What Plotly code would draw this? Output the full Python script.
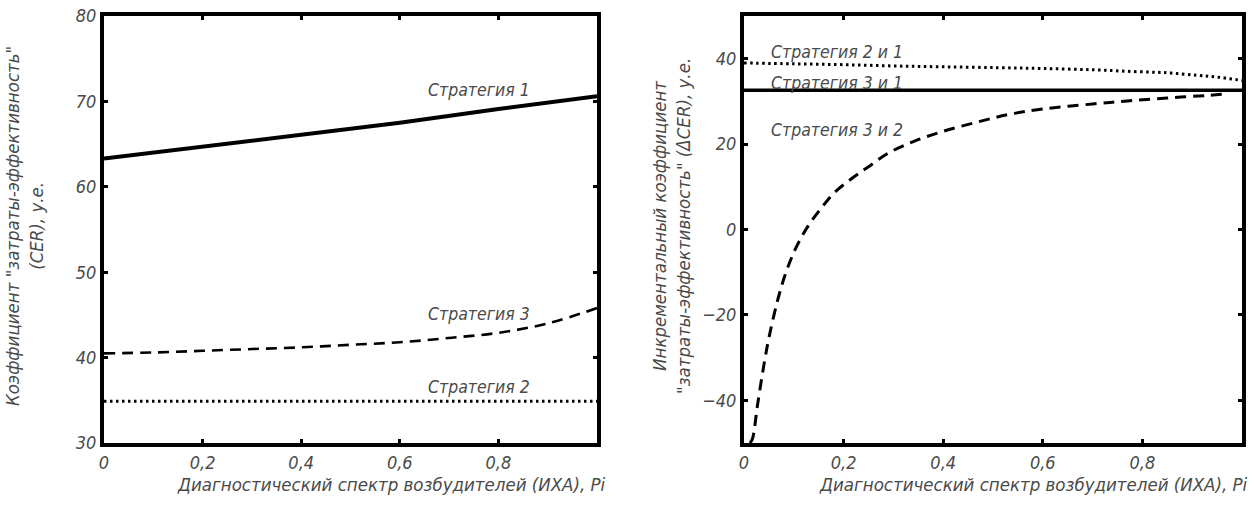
import plotly.graph_objects as go

# ---- data: left panel (CER) ----
x_s1 = [0.0, 0.2, 0.4, 0.6, 0.8, 1.0]
y_s1 = [63.3, 64.7, 66.1, 67.5, 69.1, 70.6]

x_s3 = [0.0, 0.1, 0.2, 0.3, 0.4, 0.5, 0.6, 0.7, 0.8, 0.9, 1.0]
y_s3 = [40.5, 40.6, 40.8, 41.0, 41.2, 41.5, 41.8, 42.3, 42.9, 44.0, 45.8]

x_s2 = [0.0, 1.0]
y_s2 = [34.9, 34.9]

# ---- data: right panel (delta CER) ----
x_21 = [0.0, 0.1, 0.2, 0.3, 0.4, 0.51, 0.6, 0.7, 0.78, 0.85, 0.91, 0.95, 1.0]
y_21 = [39.0, 38.8, 38.6, 38.3, 38.1, 37.9, 37.7, 37.4, 37.0, 36.7, 36.1, 35.7, 34.9]

x_31 = [0.0, 1.0]
y_31 = [32.6, 32.6]

x_32 = [0.012, 0.017, 0.027, 0.040, 0.050, 0.067, 0.083, 0.103, 0.127, 0.157,
        0.183, 0.217, 0.25, 0.29, 0.34, 0.40, 0.47, 0.534, 0.6, 0.7, 0.77,
        0.85, 0.93, 0.97]
y_32 = [-50.0, -49.0, -41.2, -31.7, -25.4, -16.8, -10.5, -4.6, 0.5, 5.3,
        8.8, 12.0, 14.7, 17.9, 20.6, 23.0, 25.2, 27.0, 28.2, 29.4, 30.1,
        30.8, 31.4, 31.8]

x_ticks = [0, 0.2, 0.4, 0.6, 0.8]
x_ticktext = ["0", "0,2", "0,4", "0,6", "0,8"]
yl_ticks = [30, 40, 50, 60, 70, 80]
yl_ticktext = ["30", "40", "50", "60", "70", "80"]
yr_ticks = [-40, -20, 0, 20, 40]
yr_ticktext = ["\u221240", "\u221220", "0", "20", "40"]

FONT = "DejaVu Sans Condensed, Liberation Sans Narrow, sans-serif"
GRAY = "#4a4a4a"

fig = go.Figure()

fig.add_trace(go.Scatter(x=x_s1, y=y_s1, mode="lines",
                         line=dict(color="black", width=4), xaxis="x", yaxis="y"))
fig.add_trace(go.Scatter(x=x_s3, y=y_s3, mode="lines", line_shape="spline",
                         line=dict(color="black", width=2.6, dash="11px,7px"), xaxis="x", yaxis="y"))
fig.add_trace(go.Scatter(x=x_s2, y=y_s2, mode="lines",
                         line=dict(color="black", width=3, dash="2.5px,3.5px"), xaxis="x", yaxis="y"))

fig.add_trace(go.Scatter(x=x_21, y=y_21, mode="lines", line_shape="spline",
                         line=dict(color="black", width=3, dash="2.5px,3.5px"), xaxis="x2", yaxis="y2"))
fig.add_trace(go.Scatter(x=x_31, y=y_31, mode="lines",
                         line=dict(color="black", width=3.5), xaxis="x2", yaxis="y2"))
fig.add_trace(go.Scatter(x=x_32, y=y_32, mode="lines", line_shape="spline",
                         line=dict(color="black", width=3, dash="11px,7px"), xaxis="x2", yaxis="y2"))

W, H = 1256, 506
def px_x(p):
    return p / W
def px_y(p):
    return 1 - p / H

axis_common = dict(showline=True, linecolor="black", linewidth=4, mirror="allticks",
                   ticks="inside", ticklen=4, tickwidth=3, tickcolor="black",
                   showgrid=False, zeroline=False, automargin=False,
                   tickfont=dict(family=FONT, size=18, color=GRAY))

def it(lst):
    return ["<i>%s</i>" % t for t in lst]

fig.update_layout(
    width=W, height=H,
    margin=dict(l=0, r=0, t=0, b=0, pad=0),
    paper_bgcolor="white", plot_bgcolor="white",
    showlegend=False,
    font=dict(family=FONT, color=GRAY),
    xaxis=dict(domain=[px_x(104), px_x(597)], range=[0, 1], tickvals=x_ticks,
               ticktext=it(x_ticktext), anchor="y", **axis_common),
    yaxis=dict(domain=[px_y(443), px_y(16)], range=[30, 80], tickvals=yl_ticks,
               ticktext=it(yl_ticktext), anchor="x", **axis_common),
    xaxis2=dict(domain=[px_x(744), px_x(1242)], range=[0, 1], tickvals=x_ticks,
                ticktext=it(x_ticktext), anchor="y2", **axis_common),
    yaxis2=dict(domain=[px_y(443), px_y(16)], range=[-50, 50], tickvals=yr_ticks,
                ticktext=it(yr_ticktext), anchor="x2", **axis_common),
)

lab_font = dict(family=FONT, size=17.5, color=GRAY)
ann = []
# curve labels, left
ann.append(dict(x=0.76, y=71.3, xref="x", yref="y", text="<i>Стратегия 1</i>",
                showarrow=False, font=lab_font))
ann.append(dict(x=0.76, y=45.1, xref="x", yref="y", text="<i>Стратегия 3</i>",
                showarrow=False, font=lab_font))
ann.append(dict(x=0.76, y=36.5, xref="x", yref="y", text="<i>Стратегия 2</i>",
                showarrow=False, font=lab_font))
# curve labels, right
ann.append(dict(x=0.05, y=41.6, xref="x2", yref="y2", text="<i>Стратегия 2 и 1</i>",
                showarrow=False, xanchor="left", font=lab_font))
ann.append(dict(x=0.05, y=34.4, xref="x2", yref="y2", text="<i>Стратегия 3 и 1</i>",
                showarrow=False, xanchor="left", font=lab_font))
ann.append(dict(x=0.05, y=23.4, xref="x2", yref="y2", text="<i>Стратегия 3 и 2</i>",
                showarrow=False, xanchor="left", font=lab_font))

# axis titles
ttl_font = dict(family=FONT, size=18.5, color=GRAY)
ann.append(dict(x=px_x(608), y=px_y(484), xref="paper", yref="paper",
                text="<i>Диагностический спектр возбудителей (ИХА), Pi</i>",
                showarrow=False, xanchor="right", yanchor="middle", font=ttl_font))
ann.append(dict(x=px_x(1250), y=px_y(484), xref="paper", yref="paper",
                text="<i>Диагностический спектр возбудителей (ИХА), Pi</i>",
                showarrow=False, xanchor="right", yanchor="middle", font=ttl_font))
ann.append(dict(x=px_x(24), y=px_y(226), xref="paper", yref="paper",
                text="<i>Коэффициент \"затраты-эффективность\"<br>(CER), у.е.</i>",
                showarrow=False, textangle=-90, xanchor="center", yanchor="middle",
                font=ttl_font))
ann.append(dict(x=px_x(671), y=px_y(226), xref="paper", yref="paper",
                text="<i>Инкрементальный коэффициент<br>\"затраты-эффективность\" (\u0394CER), у.е.</i>",
                showarrow=False, textangle=-90, xanchor="center", yanchor="middle",
                font=ttl_font))
fig.update_layout(annotations=ann)

fig.write_html("out.html", config={"displayModeBar": False},
               post_script="document.body.style.margin='0';document.body.style.overflow='hidden';")
